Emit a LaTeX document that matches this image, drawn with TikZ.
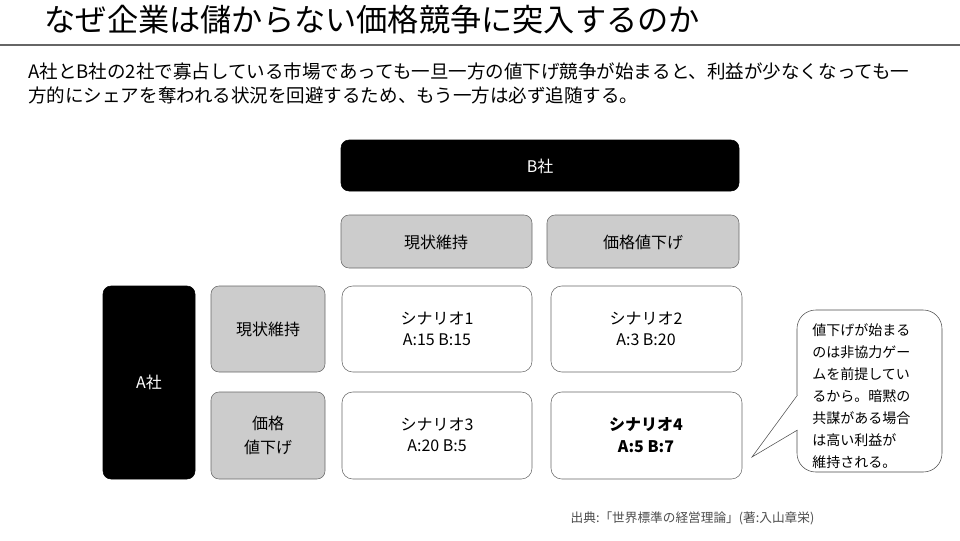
\documentclass[tikz,border=0pt]{standalone}
\usepackage{fontspec}
\setmainfont{Noto Sans CJK JP}
\begin{document}
\begin{tikzpicture}[x=0.75pt,y=-0.75pt,
  blk/.style={draw=black,fill=black,rounded corners=6pt,text=white,font=\fontsize{12}{14}\selectfont},
  gry/.style={draw=black!60,fill=black!20,rounded corners=6pt,font=\fontsize{12}{15}\selectfont,align=center},
  wht/.style={draw=black!60,fill=white,rounded corners=8pt,font=\fontsize{12}{15}\selectfont,align=center}]
\useasboundingbox (0,0) rectangle (960,540);
\node[anchor=west,font=\fontsize{23.4}{26}\selectfont] (title) at (40,20) {なぜ企業は儲からない価格競争に突入するのか};
\draw[line width=2.2pt,black!60] (0,45) coordinate (l1) -- (960,45) coordinate (l2);
\node[anchor=north west,align=left,font=\fontsize{13.9}{18}\selectfont,inner sep=0] (body) at (28,63) {A社とB社の2社で寡占している市場であっても一旦一方の値下げ競争が始まると、利益が少なくなっても一\\方的にシェアを奪われる状況を回避するため、もう一方は必ず追随する。};
\draw[blk] (341,140) rectangle (739,191); \node[text=white,font=\fontsize{12}{14}\selectfont] (b) at (540,166) {B社};
\draw[gry] (341,215) rectangle (532,268); \node[font=\fontsize{12}{14}\selectfont] (bk) at (436,242) {現状維持};
\draw[gry] (547,215) rectangle (739,268); \node[font=\fontsize{12}{14}\selectfont] (bd) at (643,242) {価格値下げ};
\draw[blk] (103,286) rectangle (195,479); \node[text=white,font=\fontsize{12}{14}\selectfont] (a) at (149,382) {A社};
\draw[gry] (211,286) rectangle (325,372); \node[font=\fontsize{12}{14}\selectfont] (ak) at (268,329) {現状維持};
\draw[gry] (211,392) rectangle (325,479); \node[align=center,font=\fontsize{12}{18}\selectfont] (ad) at (268,435) {価格\\値下げ};
\draw[wht] (342,286) rectangle (532,372); \node[align=center,font=\fontsize{12}{16}\selectfont] (s1) at (437,329) {シナリオ1\\A:15 B:15};
\draw[wht] (551,286) rectangle (742,372); \node[align=center,font=\fontsize{12}{16}\selectfont] (s2) at (646,329) {シナリオ2\\A:3 B:20};
\draw[wht] (342,392) rectangle (532,479); \node[align=center,font=\fontsize{12}{16}\selectfont] (s3) at (437,435) {シナリオ3\\A:20 B:5};
\draw[wht] (551,392) rectangle (742,479); \node[align=center,font=\bfseries\fontsize{12}{16}\selectfont] (s4) at (646,435) {シナリオ4\\A:5 B:7};
\draw[black!70,fill=white,rounded corners=14pt] (797,430) -- (797,472) -- (942,472) -- (942,310) -- (797,310) -- (797,395);
\draw[black!70,fill=white] (797.5,395) -- (752,457) -- (797.5,430);
\node[anchor=north west,align=left,inner sep=0,font=\fontsize{10.5}{16.5}\selectfont] (c) at (812,323) {値下げが始まる\\のは非協力ゲー\\ムを前提してい\\るから。暗黙の\\共謀がある場合\\は高い利益が\\維持される。};
\node[anchor=west,text=black!70,font=\fontsize{9.5}{12}\selectfont] (src) at (566,518) {出典:「世界標準の経営理論」(著:入山章栄)};
\end{tikzpicture}
\end{document}
